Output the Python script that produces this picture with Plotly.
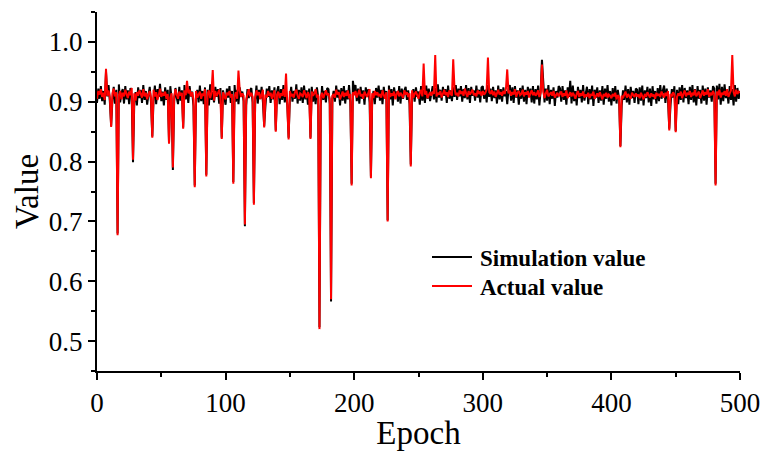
import plotly.graph_objects as go

# ---- data ----
actual_base = [
    0.905, 0.918, 0.912, 0.921, 0.908, 0.915, 0.903, 0.917, 0.910, 0.919, 0.907, 0.913, 0.914, 0.922, 0.909, 0.916, 0.906, 0.911, 0.918, 0.904,
    0.915, 0.909, 0.920, 0.912, 0.906, 0.917, 0.911, 0.923, 0.908, 0.914, 0.902, 0.916, 0.910, 0.919, 0.913, 0.907, 0.921, 0.909, 0.915, 0.904,
    0.912, 0.918, 0.906, 0.914, 0.920, 0.909, 0.916, 0.903, 0.911, 0.922, 0.908, 0.915, 0.910, 0.917, 0.905, 0.913, 0.919, 0.907, 0.914, 0.911,
    0.908, 0.921, 0.912, 0.905, 0.917, 0.910, 0.915, 0.903, 0.919, 0.911, 0.906, 0.914, 0.920, 0.909, 0.916, 0.904, 0.912, 0.918, 0.907, 0.913,
    0.917, 0.905, 0.914, 0.910, 0.921, 0.908, 0.913, 0.919, 0.906, 0.915, 0.911, 0.902, 0.918, 0.909, 0.914, 0.920, 0.907, 0.912, 0.916, 0.910,
    0.904, 0.915, 0.911, 0.918, 0.907, 0.913, 0.920, 0.909, 0.916, 0.905, 0.912, 0.919, 0.908, 0.914, 0.910, 0.917, 0.903, 0.912, 0.921, 0.909,
    0.915, 0.908, 0.913, 0.906, 0.919, 0.911, 0.916, 0.904, 0.914, 0.920, 0.909, 0.912, 0.907, 0.918, 0.910, 0.915, 0.905, 0.913, 0.919, 0.908,
    0.912, 0.917, 0.906, 0.914, 0.910, 0.921, 0.908, 0.915, 0.903, 0.911, 0.918, 0.909, 0.913, 0.907, 0.916, 0.920, 0.910, 0.905, 0.914, 0.912,
    0.908, 0.919, 0.913, 0.906, 0.916, 0.911, 0.904, 0.917, 0.910, 0.914, 0.921, 0.907, 0.912, 0.918, 0.909, 0.915, 0.906, 0.913, 0.919, 0.911,
    0.914, 0.905, 0.918, 0.910, 0.913, 0.907, 0.920, 0.912, 0.916, 0.904, 0.911, 0.917, 0.908, 0.915, 0.910, 0.919, 0.906, 0.913, 0.909, 0.916,
    0.911, 0.918, 0.907, 0.914, 0.920, 0.909, 0.913, 0.905, 0.917, 0.912, 0.908, 0.915, 0.921, 0.910, 0.914, 0.906, 0.918, 0.911, 0.916, 0.909,
    0.913, 0.907, 0.919, 0.911, 0.905, 0.916, 0.912, 0.920, 0.908, 0.914, 0.910, 0.917, 0.904, 0.913, 0.918, 0.909, 0.915, 0.911, 0.906, 0.919,
    0.912, 0.916, 0.908, 0.914, 0.910, 0.919, 0.907, 0.913, 0.917, 0.911, 0.905, 0.915, 0.920, 0.909, 0.914, 0.912, 0.918, 0.906, 0.913, 0.916,
    0.910, 0.917, 0.913, 0.921, 0.909, 0.915, 0.912, 0.918, 0.907, 0.914, 0.920, 0.911, 0.916, 0.908, 0.919, 0.913, 0.910, 0.917, 0.922, 0.911,
    0.915, 0.909, 0.919, 0.913, 0.917, 0.910, 0.922, 0.914, 0.908, 0.918, 0.912, 0.916, 0.920, 0.911, 0.914, 0.909, 0.919, 0.913, 0.917, 0.910,
    0.918, 0.912, 0.915, 0.921, 0.909, 0.916, 0.913, 0.919, 0.911, 0.917, 0.908, 0.914, 0.920, 0.912, 0.916, 0.910, 0.918, 0.913, 0.922, 0.911,
    0.914, 0.919, 0.910, 0.916, 0.912, 0.921, 0.908, 0.915, 0.918, 0.911, 0.913, 0.920, 0.909, 0.916, 0.912, 0.918, 0.907, 0.914, 0.919, 0.911,
    0.916, 0.910, 0.913, 0.919, 0.908, 0.915, 0.911, 0.917, 0.906, 0.914, 0.920, 0.909, 0.913, 0.916, 0.910, 0.918, 0.907, 0.912, 0.915, 0.909,
    0.913, 0.917, 0.908, 0.914, 0.910, 0.919, 0.906, 0.912, 0.916, 0.909, 0.915, 0.911, 0.905, 0.913, 0.918, 0.908, 0.914, 0.910, 0.917, 0.907,
    0.912, 0.909, 0.915, 0.906, 0.913, 0.910, 0.917, 0.905, 0.911, 0.914, 0.908, 0.916, 0.910, 0.904, 0.913, 0.909, 0.915, 0.907, 0.912, 0.910,
    0.906, 0.913, 0.909, 0.915, 0.904, 0.911, 0.908, 0.914, 0.910, 0.906, 0.912, 0.917, 0.907, 0.913, 0.909, 0.905, 0.915, 0.910, 0.908, 0.914,
    0.909, 0.912, 0.906, 0.915, 0.910, 0.904, 0.913, 0.908, 0.916, 0.911, 0.907, 0.914, 0.909, 0.912, 0.905, 0.915, 0.910, 0.913, 0.908, 0.917,
    0.911, 0.907, 0.915, 0.910, 0.918, 0.906, 0.913, 0.909, 0.916, 0.912, 0.920, 0.908, 0.914, 0.910, 0.917, 0.906, 0.913, 0.919, 0.909, 0.915,
    0.912, 0.918, 0.908, 0.915, 0.911, 0.920, 0.909, 0.914, 0.917, 0.906, 0.913, 0.919, 0.910, 0.916, 0.912, 0.921, 0.908, 0.915, 0.911, 0.918,
    0.913, 0.909, 0.917, 0.911, 0.920, 0.907, 0.915, 0.912, 0.918, 0.910, 0.921, 0.908, 0.914, 0.919, 0.911, 0.916, 0.909, 0.920, 0.913, 0.917,
    0.915,
]

simulation_base = [
    0.898, 0.922, 0.905, 0.926, 0.901, 0.918, 0.895, 0.924, 0.909, 0.928, 0.900, 0.917, 0.903, 0.925, 0.897, 0.920, 0.906, 0.929, 0.899, 0.915,
    0.921, 0.897, 0.926, 0.904, 0.919, 0.896, 0.923, 0.908, 0.927, 0.900, 0.916, 0.894, 0.924, 0.906, 0.920, 0.898, 0.928, 0.903, 0.918, 0.895,
    0.912, 0.925, 0.899, 0.919, 0.905, 0.927, 0.896, 0.921, 0.908, 0.930, 0.901, 0.917, 0.894, 0.924, 0.903, 0.920, 0.897, 0.926, 0.906, 0.918,
    0.900, 0.923, 0.907, 0.896, 0.925, 0.902, 0.919, 0.895, 0.928, 0.904, 0.921, 0.898, 0.926, 0.909, 0.917, 0.893, 0.924, 0.905, 0.920, 0.899,
    0.927, 0.901, 0.918, 0.896, 0.924, 0.906, 0.920, 0.894, 0.929, 0.903, 0.916, 0.899, 0.925, 0.908, 0.921, 0.897, 0.923, 0.902, 0.919, 0.905,
    0.895, 0.922, 0.907, 0.926, 0.898, 0.918, 0.904, 0.928, 0.900, 0.920, 0.896, 0.924, 0.909, 0.917, 0.901, 0.925, 0.894, 0.921, 0.906, 0.919,
    0.923, 0.899, 0.916, 0.903, 0.927, 0.897, 0.920, 0.905, 0.925, 0.900, 0.918, 0.894, 0.922, 0.908, 0.926, 0.898, 0.919, 0.904, 0.924, 0.901,
    0.917, 0.926, 0.896, 0.921, 0.903, 0.928, 0.899, 0.919, 0.894, 0.923, 0.907, 0.925, 0.900, 0.918, 0.905, 0.929, 0.897, 0.920, 0.902, 0.924,
    0.898, 0.927, 0.904, 0.919, 0.895, 0.922, 0.906, 0.925, 0.900, 0.917, 0.896, 0.924, 0.908, 0.920, 0.893, 0.926, 0.903, 0.918, 0.899, 0.923,
    0.921, 0.896, 0.925, 0.905, 0.918, 0.900, 0.927, 0.907, 0.920, 0.894, 0.923, 0.902, 0.926, 0.897, 0.919, 0.904, 0.928, 0.899, 0.922, 0.906,
    0.916, 0.928, 0.901, 0.922, 0.897, 0.925, 0.905, 0.919, 0.895, 0.924, 0.908, 0.921, 0.899, 0.926, 0.903, 0.918, 0.896, 0.923, 0.907, 0.927,
    0.902, 0.920, 0.896, 0.925, 0.906, 0.918, 0.899, 0.927, 0.904, 0.921, 0.894, 0.924, 0.909, 0.917, 0.900, 0.926, 0.897, 0.922, 0.905, 0.919,
    0.925, 0.903, 0.919, 0.897, 0.928, 0.906, 0.921, 0.900, 0.924, 0.908, 0.917, 0.895, 0.926, 0.902, 0.920, 0.898, 0.927, 0.905, 0.922, 0.901,
    0.918, 0.926, 0.904, 0.923, 0.899, 0.929, 0.907, 0.920, 0.902, 0.925, 0.910, 0.921, 0.898, 0.927, 0.905, 0.919, 0.901, 0.924, 0.908, 0.928,
    0.903, 0.922, 0.909, 0.926, 0.900, 0.921, 0.906, 0.928, 0.904, 0.923, 0.898, 0.925, 0.910, 0.919, 0.902, 0.927, 0.907, 0.920, 0.899, 0.924,
    0.926, 0.905, 0.920, 0.899, 0.928, 0.908, 0.922, 0.901, 0.925, 0.906, 0.919, 0.897, 0.927, 0.904, 0.921, 0.900, 0.924, 0.909, 0.918, 0.896,
    0.921, 0.928, 0.902, 0.924, 0.898, 0.926, 0.907, 0.919, 0.895, 0.923, 0.905, 0.927, 0.900, 0.920, 0.896, 0.925, 0.908, 0.922, 0.899, 0.926,
    0.897, 0.921, 0.904, 0.927, 0.894, 0.919, 0.906, 0.925, 0.899, 0.922, 0.902, 0.928, 0.896, 0.920, 0.905, 0.924, 0.893, 0.918, 0.907, 0.926,
    0.923, 0.900, 0.926, 0.903, 0.919, 0.895, 0.924, 0.908, 0.921, 0.897, 0.927, 0.901, 0.918, 0.894, 0.925, 0.906, 0.920, 0.899, 0.928, 0.902,
    0.917, 0.925, 0.896, 0.921, 0.904, 0.927, 0.893, 0.920, 0.907, 0.924, 0.898, 0.919, 0.902, 0.926, 0.895, 0.922, 0.905, 0.928, 0.900, 0.918,
    0.894, 0.923, 0.901, 0.926, 0.897, 0.920, 0.905, 0.924, 0.893, 0.919, 0.903, 0.927, 0.899, 0.921, 0.895, 0.925, 0.906, 0.918, 0.898, 0.922,
    0.920, 0.896, 0.924, 0.902, 0.927, 0.894, 0.919, 0.906, 0.925, 0.899, 0.922, 0.893, 0.926, 0.904, 0.918, 0.897, 0.923, 0.901, 0.928, 0.905,
    0.919, 0.927, 0.898, 0.922, 0.904, 0.925, 0.895, 0.921, 0.907, 0.926, 0.900, 0.920, 0.896, 0.924, 0.903, 0.928, 0.899, 0.923, 0.906, 0.919,
    0.896, 0.925, 0.903, 0.928, 0.899, 0.921, 0.894, 0.926, 0.905, 0.920, 0.897, 0.927, 0.902, 0.922, 0.895, 0.924, 0.907, 0.919, 0.900, 0.926,
    0.922, 0.898, 0.927, 0.904, 0.920, 0.895, 0.925, 0.901, 0.929, 0.906, 0.918, 0.897, 0.926, 0.903, 0.921, 0.894, 0.928, 0.900, 0.923, 0.905,
    0.918,
]

# spikes of the actual (red) series: epoch -> value
actual_spike_epochs = [7, 11, 16, 28, 43, 56, 59, 67, 70, 76, 85, 90, 97, 106, 110, 115, 122, 130,
                       139, 147, 149, 166, 173, 182, 198, 213, 226, 244, 254, 263, 277, 304, 319,
                       346, 407, 445, 450, 481, 494]
actual_spike_values = [0.955, 0.858, 0.677, 0.803, 0.840, 0.830, 0.790, 0.855, 0.935, 0.757, 0.775,
                       0.953, 0.838, 0.763, 0.952, 0.695, 0.728, 0.857, 0.850, 0.947, 0.837, 0.838,
                       0.520, 0.570, 0.760, 0.772, 0.700, 0.792, 0.964, 0.978, 0.971, 0.974, 0.954,
                       0.962, 0.824, 0.852, 0.849, 0.760, 0.978]

# spikes of the simulation (black) series
sim_spike_epochs = [7, 11, 16, 28, 43, 56, 59, 67, 76, 85, 97, 106, 115, 122, 130, 139, 149, 166,
                    173, 182, 198, 199, 213, 226, 244, 346, 368, 407, 445, 450, 481, 484]
sim_spike_values = [0.950, 0.860, 0.680, 0.799, 0.842, 0.832, 0.786, 0.857, 0.760, 0.778, 0.840,
                    0.766, 0.692, 0.731, 0.859, 0.852, 0.840, 0.840, 0.523, 0.566, 0.763, 0.935,
                    0.775, 0.702, 0.795, 0.970, 0.935, 0.826, 0.855, 0.851, 0.763, 0.930]

actual = list(actual_base)
for e, v in zip(actual_spike_epochs, actual_spike_values):
    actual[e] = v
simulation = list(simulation_base)
for e, v in zip(sim_spike_epochs, sim_spike_values):
    simulation[e] = v

epochs = list(range(len(actual)))

x_ticks = [0, 100, 200, 300, 400, 500]
y_ticks = [0.5, 0.6, 0.7, 0.8, 0.9, 1.0]

FONT = "Liberation Serif, Times New Roman, serif"

fig = go.Figure()
fig.add_trace(go.Scatter(x=epochs, y=simulation, mode="lines", name="Simulation value",
                         line=dict(color="black", width=2), showlegend=False))
fig.add_trace(go.Scatter(x=epochs, y=actual, mode="lines", name="Actual value",
                         line=dict(color="#ff0000", width=2), showlegend=False))

L, R, T, B = 97, 21, 12, 80
W, H = 761, 451
pw, ph = W - L - R, H - T - B

def px(xp):
    return (xp - L) / pw

def py(yp):
    return (H - B - yp) / ph

# manual legend
legend_items = [("Simulation value", "black", 257), ("Actual value", "#ff0000", 286)]
for label, color, ypix in legend_items:
    fig.add_shape(type="line", xref="paper", yref="paper",
                  x0=px(432), x1=px(472), y0=py(ypix), y1=py(ypix),
                  line=dict(color=color, width=2))
    fig.add_annotation(xref="paper", yref="paper", x=px(478), y=py(ypix + 1),
                       text="<b>%s</b>" % label, showarrow=False, xanchor="left", yanchor="middle",
                       font=dict(family=FONT, size=23, color="black"))

axis_common = dict(
    showline=True, linecolor="black", linewidth=2, mirror=False,
    ticks="outside", ticklen=7, tickwidth=2, tickcolor="black",
    showgrid=False, zeroline=False, automargin=False,
    tickfont=dict(family=FONT, size=27, color="black"),
)

fig.update_layout(
    width=W, height=H,
    margin=dict(l=L, r=R, t=T, b=B),
    paper_bgcolor="white", plot_bgcolor="white",
    xaxis=dict(range=[0, 500], tickvals=x_ticks,
               minor=dict(dtick=50, tick0=0, ticks="outside", ticklen=4, tickwidth=2, tickcolor="black"),
               title=dict(text="Epoch", font=dict(family=FONT, size=33, color="black"), standoff=9),
               **axis_common),
    yaxis=dict(range=[0.45, 1.05], tickvals=y_ticks, tickformat=".1f",
               minor=dict(dtick=0.05, tick0=0.45, ticks="outside", ticklen=4, tickwidth=2, tickcolor="black"),
               title=dict(text="Value", font=dict(family=FONT, size=33, color="black"), standoff=0),
               **axis_common),
)

fig.write_html("out.html", config={"displayModeBar": False},
               post_script="document.body.style.margin='0';document.body.style.overflow='hidden';")
